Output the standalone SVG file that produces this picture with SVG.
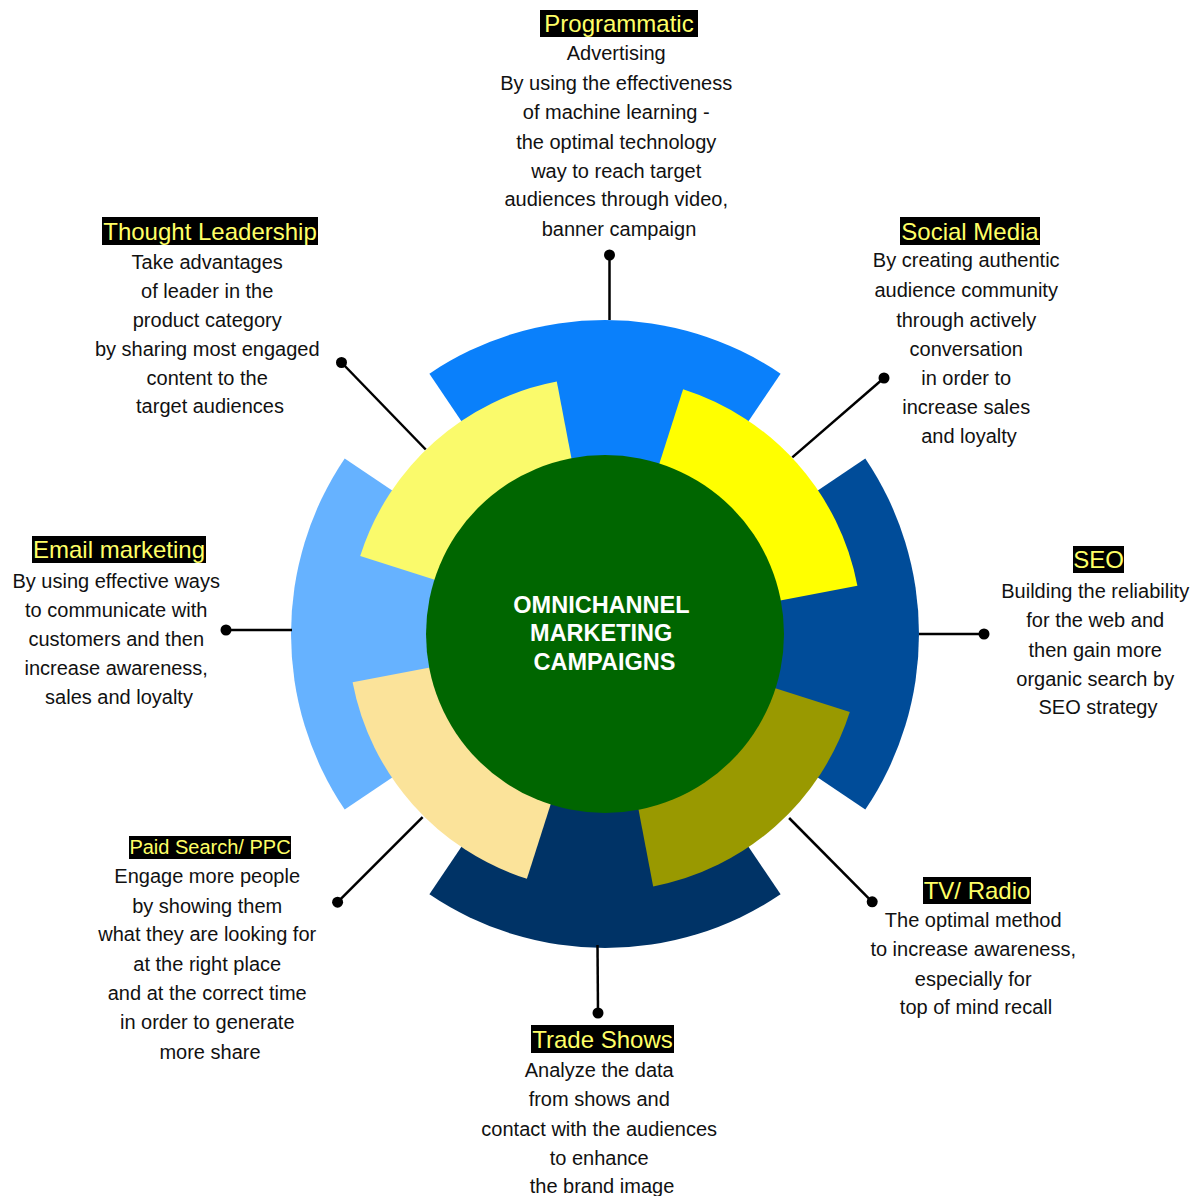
<svg xmlns="http://www.w3.org/2000/svg" width="1199" height="1196" viewBox="0 0 1199 1196">
  <style>
    .body { font-family: "Liberation Sans", Arial, sans-serif; font-size: 20px; fill: #111111; text-anchor: middle; }
    .title { font-family: "Liberation Sans", Arial, sans-serif; font-size: 24px; fill: #FFFF66; text-anchor: middle; }
    .title-sm { font-size: 20px; }
    .tag { fill: #000000; }
    .hub { font-family: "Liberation Sans", Arial, sans-serif; font-size: 23.5px; font-weight: bold; fill: #FFFFFF; text-anchor: middle; }
    .link { stroke: #000000; stroke-width: 2.5; fill: none; }
    .dot { fill: #000000; }
  </style>

  <rect width="1199" height="1196" fill="#FFFFFF"/>

  <!-- Outer ring channels (wedges centred at 605,634, r=314) -->
  <g id="programmatic">
    <path d="M605,634 L429.4,373.7 A314,314 0 0 1 780.6,373.7 Z" fill="#0A80FB"/>
    <rect class="tag" x="540" y="10" width="158" height="27"/>
    <text class="title" x="619" y="31.5">Programmatic</text>
    <text class="body">
      <tspan x="619" y="60">Advertising</tspan>
      <tspan x="619" y="90">By using the effectiveness</tspan>
      <tspan x="619" y="119">of machine learning -</tspan>
      <tspan x="619" y="149">the optimal technology</tspan>
      <tspan x="619" y="178">way to reach target</tspan>
      <tspan x="619" y="206">audiences through video,</tspan>
      <tspan x="619" y="236">banner campaign</tspan>
    </text>
  </g>

  <g id="seo">
    <path d="M605,634 L865.3,458.4 A314,314 0 0 1 865.3,809.6 Z" fill="#004C99"/>
    <rect class="tag" x="1073" y="546" width="51" height="27"/>
    <text class="title" x="1098.5" y="567.5">SEO</text>
    <text class="body">
      <tspan x="1098" y="598">Building the reliability</tspan>
      <tspan x="1098" y="627">for the web and</tspan>
      <tspan x="1098" y="657">then gain more</tspan>
      <tspan x="1098" y="686">organic search by</tspan>
      <tspan x="1098" y="714">SEO strategy</tspan>
    </text>
  </g>

  <g id="trade-shows">
    <path d="M605,634 L780.6,894.3 A314,314 0 0 1 429.4,894.3 Z" fill="#003366"/>
    <rect class="tag" x="531" y="1025" width="143" height="28"/>
    <text class="title" x="602.5" y="1047.5">Trade Shows</text>
    <text class="body">
      <tspan x="602" y="1077">Analyze the data</tspan>
      <tspan x="602" y="1106">from shows and</tspan>
      <tspan x="602" y="1136">contact with the audiences</tspan>
      <tspan x="602" y="1165">to enhance</tspan>
      <tspan x="602" y="1193">the brand image</tspan>
    </text>
  </g>

  <g id="email-marketing">
    <path d="M605,634 L344.7,809.6 A314,314 0 0 1 344.7,458.4 Z" fill="#66B2FF"/>
    <rect class="tag" x="32" y="536" width="174" height="27"/>
    <text class="title" x="119" y="557.5">Email marketing</text>
    <text class="body">
      <tspan x="119" y="588">By using effective ways</tspan>
      <tspan x="119" y="617">to communicate with</tspan>
      <tspan x="119" y="646">customers and then</tspan>
      <tspan x="119" y="675">increase awareness,</tspan>
      <tspan x="119" y="704">sales and loyalty</tspan>
    </text>
  </g>

  <!-- Inner ring channels (wedges, r=257) -->
  <g id="social-media">
    <path d="M605,634 L683.1,389.2 A257,257 0 0 1 857.4,585.8 Z" fill="#FFFF00"/>
    <rect class="tag" x="900" y="217" width="140" height="28"/>
    <text class="title" x="970" y="239.5">Social Media</text>
    <text class="body">
      <tspan x="969" y="267">By creating authentic</tspan>
      <tspan x="969" y="297">audience community</tspan>
      <tspan x="969" y="327">through actively</tspan>
      <tspan x="969" y="356">conversation</tspan>
      <tspan x="969" y="385">in order to</tspan>
      <tspan x="969" y="414">increase sales</tspan>
      <tspan x="969" y="443">and loyalty</tspan>
    </text>
  </g>

  <g id="tv-radio">
    <path d="M605,634 L849.8,712.1 A257,257 0 0 1 653.2,886.4 Z" fill="#999900"/>
    <rect class="tag" x="923" y="877" width="108" height="27"/>
    <text class="title" x="977" y="898.5">TV/ Radio</text>
    <text class="body">
      <tspan x="976" y="927">The optimal method</tspan>
      <tspan x="976" y="956">to increase awareness,</tspan>
      <tspan x="976" y="986">especially for</tspan>
      <tspan x="976" y="1014">top of mind recall</tspan>
    </text>
  </g>

  <g id="paid-search">
    <path d="M605,634 L526.9,878.8 A257,257 0 0 1 352.6,682.2 Z" fill="#FBE39A"/>
    <rect class="tag" x="129" y="836" width="162" height="23"/>
    <text class="title title-sm" x="210" y="854">Paid Search/ PPC</text>
    <text class="body">
      <tspan x="210" y="883">Engage more people</tspan>
      <tspan x="210" y="913">by showing them</tspan>
      <tspan x="210" y="941">what they are looking for</tspan>
      <tspan x="210" y="971">at the right place</tspan>
      <tspan x="210" y="1000">and at the correct time</tspan>
      <tspan x="210" y="1029">in order to generate</tspan>
      <tspan x="210" y="1059">more share</tspan>
    </text>
  </g>

  <g id="thought-leadership">
    <path d="M605,634 L360.2,555.9 A257,257 0 0 1 556.8,381.6 Z" fill="#FAFA6B"/>
    <rect class="tag" x="102" y="217" width="216" height="28"/>
    <text class="title" x="210" y="239.5">Thought Leadership</text>
    <text class="body">
      <tspan x="210" y="269">Take advantages</tspan>
      <tspan x="210" y="298">of leader in the</tspan>
      <tspan x="210" y="327">product category</tspan>
      <tspan x="210" y="356">by sharing most engaged</tspan>
      <tspan x="210" y="385">content to the</tspan>
      <tspan x="210" y="413">target audiences</tspan>
    </text>
  </g>

  <!-- Hub -->
  <g id="hub">
    <circle cx="605" cy="634" r="179" fill="#006600"/>
    <text class="hub">
      <tspan x="604.5" y="612.5">OMNICHANNEL</tspan>
      <tspan x="604.5" y="640.5">MARKETING</tspan>
      <tspan x="604.5" y="669.5">CAMPAIGNS</tspan>
    </text>
  </g>

  <!-- Leader lines from the wheel to each description -->
  <g id="connectors">
    <line class="link" x1="609.5" y1="320" x2="609.5" y2="255"/>
    <circle class="dot" cx="609.5" cy="255" r="5.5"/>
    <line class="link" x1="425.7" y1="449.5" x2="341.5" y2="362.5"/>
    <circle class="dot" cx="341.5" cy="362.5" r="5.5"/>
    <line class="link" x1="792.3" y1="457.4" x2="884" y2="378"/>
    <circle class="dot" cx="884" cy="378" r="5.5"/>
    <line class="link" x1="292" y1="630" x2="226" y2="630"/>
    <circle class="dot" cx="226" cy="630" r="5.5"/>
    <line class="link" x1="919" y1="634" x2="984" y2="634"/>
    <circle class="dot" cx="984" cy="634" r="5.5"/>
    <line class="link" x1="422.6" y1="817.2" x2="337.6" y2="902.2"/>
    <circle class="dot" cx="337.6" cy="902.2" r="5.5"/>
    <line class="link" x1="789.1" y1="818" x2="872.2" y2="901.8"/>
    <circle class="dot" cx="872.2" cy="901.8" r="5.5"/>
    <line class="link" x1="597.5" y1="945" x2="598" y2="1013"/>
    <circle class="dot" cx="598" cy="1013" r="5.5"/>
  </g>
</svg>
